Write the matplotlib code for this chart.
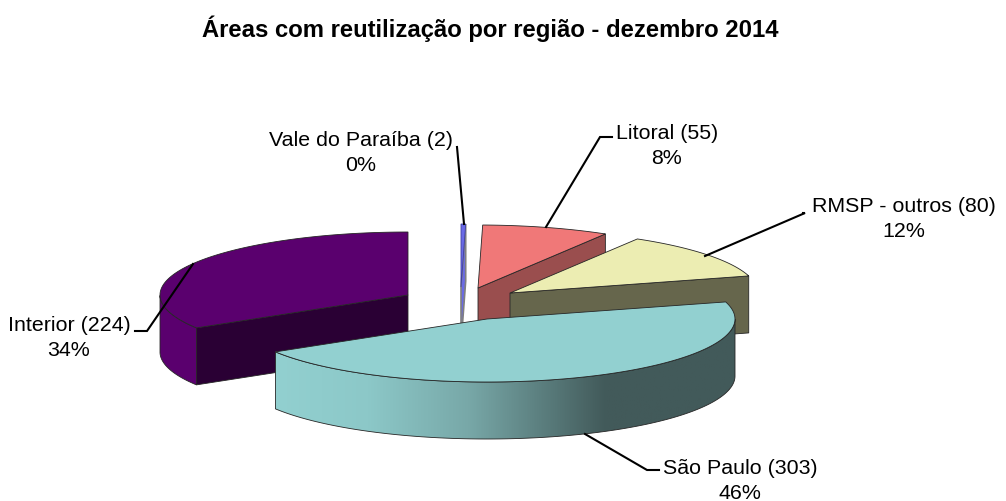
import numpy as np
import matplotlib
matplotlib.use('Agg')
import matplotlib.pyplot as plt
from matplotlib.colors import LinearSegmentedColormap
from matplotlib.patches import Polygon

# slices, clockwise from 12 o'clock
names = ['Vale do Paraíba', 'Litoral', 'RMSP - outros', 'São Paulo', 'Interior']
values = [2, 55, 80, 303, 224]

title = 'Áreas com reutilização por região - dezembro 2014'

# look of each slice: exploded centre in pixels, top colour, cut face colour
centers = [(461, 288), (478, 289), (510, 294), (487, 320), (408, 296)]
top_colors = ['#6a6ae6', '#f07878', '#ecedb2', '#92d0d0', '#5a006e']
cut_colors = ['#6a6ae6', '#9a4e4e', '#66664c', '#92d0d0', '#2a0034']
label_pos = [(361, 153), (667, 146), (904, 219), (740, 481), (69, 338)]
leaders = [[(457, 148), (464, 225)],
           [(612, 138), (600, 138), (546, 228)],
           [(803, 214), (805, 214), (705, 257)],
           [(659, 471), (647, 471), (585, 435)],
           [(135, 332), (147, 332), (193, 265)]]

rx, ry, depth = 248, 63, 57
edge = '#262626'

plt.rcParams['font.family'] = ['Liberation Sans', 'DejaVu Sans']
fig = plt.figure(figsize=(10.06, 5.02), dpi=100)
ax = fig.add_axes([0, 0, 1, 1])


def arc(c, t1, t2, n=120):
    t = np.radians(np.linspace(t1, t2, n))
    return np.column_stack([c[0] + rx * np.cos(t), c[1] - ry * np.sin(t)])


sweep = np.array(values) / sum(values) * 360
ends = 90 - np.cumsum(sweep)
starts = ends + sweep
shares = [round(v / sum(values) * 100) for v in values]

# back to front
for rank, i in enumerate([4, 0, 1, 2, 3]):
    z = 2 + rank * 3
    c = np.array(centers[i])
    t1, t2 = ends[i], starts[i]
    a = arc(c, t1, t2)
    down = np.array([0, depth])
    ec, lw = ('#808080', 1.2) if i == 0 else (edge, 0.6)

    # cut face on the side turned to the viewer
    if i != 3:
        t_cut = t2 if i == 4 else t1
        p = arc(c, t_cut, t_cut, 1)[0]
        ax.add_patch(Polygon([c, p, p + down, c + down], fc=cut_colors[i], ec=ec, lw=lw, zorder=z))

    # outer wall, only where the arc is at the front
    tt = np.linspace(t1, t2, 240)
    tt = tt[np.sin(np.radians(tt)) < 0]
    if len(tt) > 1:
        front = arc(c, tt[0], tt[-1], 240)
        wall = np.vstack([front, front[::-1] + down])
        if i == 3:
            cmap = LinearSegmentedColormap.from_list('wall', [(0, '#92d0d0'), (0.2, '#8cc8c8'), (0.42, '#78a8a8'), (0.72, '#425a5a'), (1, '#425a5a')])
            poly = Polygon(wall, fc='none', ec=edge, lw=0.6, zorder=z + 1)
            ax.add_patch(poly)
            grad = np.linspace(0, 1, 256).reshape(1, -1)
            im = ax.imshow(grad, cmap=cmap, extent=(front[:, 0].min(), front[:, 0].max(), 502, 300), aspect='auto', zorder=z)
            im.set_clip_path(poly)
        else:
            ax.add_patch(Polygon(wall, fc=top_colors[i], ec=edge, lw=0.6, zorder=z))

    # top face
    ax.add_patch(Polygon(np.vstack([[c], a]), fc=top_colors[i], ec=ec if i else '#4040a0', lw=0.6, zorder=z + 2))

    ax.text(label_pos[i][0], label_pos[i][1], '%s (%d)\n%d%%' % (names[i], values[i], shares[i]),
            ha='center', va='center', fontsize=15.4, linespacing=1.36, color='black', zorder=30)
    xs, ys = zip(*leaders[i])
    ax.plot(xs, ys, color='black', lw=1.5, zorder=25, solid_joinstyle='miter')

ax.text(490, 29, title, ha='center', va='center', fontsize=17.2, fontweight='bold')

ax.set_xlim(0, 1006)
ax.set_ylim(502, 0)
ax.axis('off')
fig.savefig('out.png', dpi=100)
